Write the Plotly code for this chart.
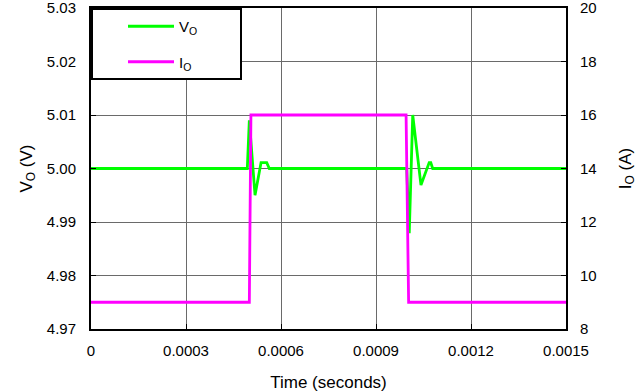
import plotly.graph_objects as go

# Time axis (seconds) for output voltage trace
t_v = [0, 0.0004936, 0.0005, 0.000518, 0.000537, 0.000555, 0.000563,
       0.000997, 0.001005, 0.001016, 0.001042, 0.001068, 0.001073, 0.001079, 0.0015]
v_o = [5.0, 5.0, 5.0090, 4.9950, 5.0011, 5.0011, 5.0,
       5.0, 4.9879, 5.0100, 4.9969, 5.0011, 5.0011, 5.0, 5.0]

# Load current trace
t_i = [0, 0.0005, 0.000505, 0.000995, 0.001003, 0.0015]
i_o = [9, 9, 16, 16, 9, 9]

x_ticks = [0, 0.0003, 0.0006, 0.0009, 0.0012, 0.0015]
x_labels = ["0", "0.0003", "0.0006", "0.0009", "0.0012", "0.0015"]
v_ticks = [4.97, 4.98, 4.99, 5.00, 5.01, 5.02, 5.03]
i_ticks = [8, 10, 12, 14, 16, 18, 20]

FONT = "Liberation Sans, Arial, sans-serif"
GRID = "#6a6a6a"
PAD = "\u00a0" * 9

fig = go.Figure()
fig.add_trace(go.Scatter(x=t_v, y=v_o, mode="lines", name="V<sub>O</sub>" + PAD,
                         line=dict(color="#00ff00", width=2.8),
                         legendgroup="v", yaxis="y"))
fig.add_trace(go.Scatter(x=t_i, y=i_o, mode="lines", name="I<sub>O</sub>" + PAD,
                         line=dict(color="#ff00ff", width=2.8),
                         legendgroup="i", yaxis="y2"))

fig.update_layout(
    width=643, height=392,
    margin=dict(l=91, r=77, t=8, b=63),
    paper_bgcolor="white", plot_bgcolor="white",
    font=dict(family=FONT, size=14, color="black"),
    showlegend=True,
    legend=dict(x=0, y=1, xanchor="left", yanchor="top",
                bgcolor="white", bordercolor="black", borderwidth=2,
                tracegroupgap=13, itemwidth=46, indentation=30,
                font=dict(size=15)),
    xaxis=dict(range=[0, 0.0015], tickvals=x_ticks, ticktext=x_labels,
               showgrid=True, gridcolor=GRID, gridwidth=1,
               showline=True, linecolor="black", linewidth=2, mirror=True,
               ticks="inside", ticklen=5, tickcolor="black", zeroline=False,
               automargin=False, tickfont=dict(size=15), ticklabeloverflow="allow",
               ticklabelstandoff=7,
               title=dict(text="Time (seconds)", standoff=18)),
    yaxis=dict(range=[4.97, 5.03], tickvals=v_ticks, tickformat=".2f",
               showgrid=True, gridcolor=GRID, gridwidth=1,
               showline=True, linecolor="black", linewidth=2,
               ticks="inside", ticklen=5, tickcolor="black", zeroline=False,
               ticklabelstandoff=10, automargin=False, tickfont=dict(size=15),
               ticklabeloverflow="allow",
               title=dict(text="V<sub>O</sub> (V)", standoff=10)),
    yaxis2=dict(range=[8, 20], tickvals=i_ticks, overlaying="y", side="right",
                showgrid=False, showline=True, linecolor="black", linewidth=2,
                ticks="inside", ticklen=5, tickcolor="black", zeroline=False,
                ticklabelstandoff=9, automargin=False, tickfont=dict(size=15),
                ticklabeloverflow="allow",
                title=dict(text="I<sub>O</sub> (A)", standoff=23)),
)

fig.write_html("out.html", config={"displayModeBar": False},
               post_script="document.body.style.margin='0';")
